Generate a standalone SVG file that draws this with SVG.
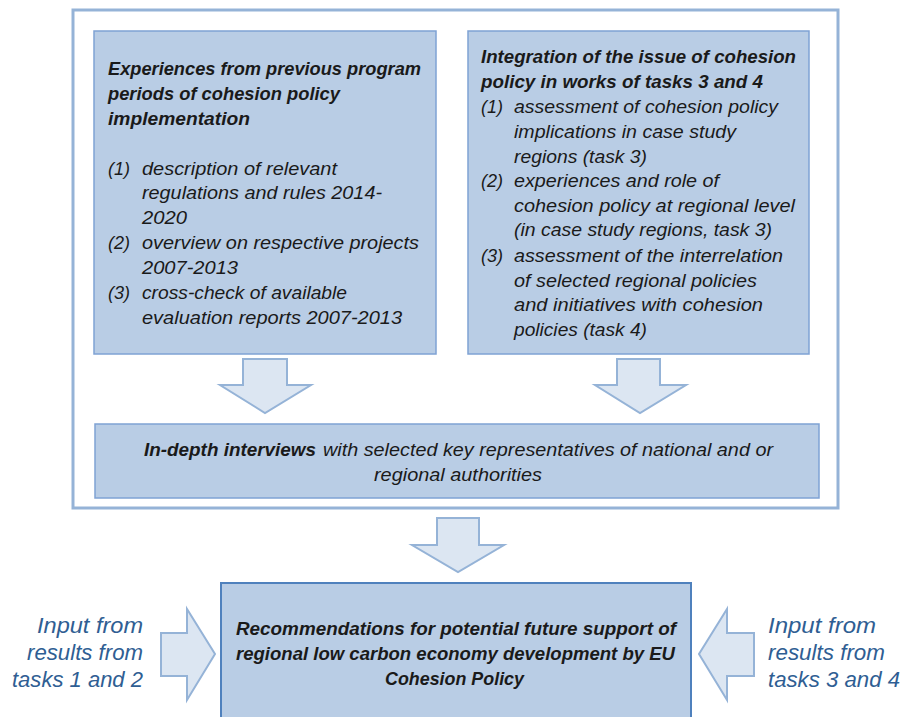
<svg xmlns="http://www.w3.org/2000/svg" width="902" height="717" viewBox="0 0 902 717">
<style>
.box{fill:#B9CDE5;stroke:#7FA2D4;stroke-width:1.5}
.arr{fill:#DCE6F2;stroke:#95B3D7;stroke-width:2;stroke-linejoin:miter}
text{font-family:"Liberation Sans",Arial,sans-serif;font-style:italic;font-size:18px;fill:#1a1a1a}
.b{font-weight:bold}
.in{font-size:22px;fill:#2F5E93}
</style>
<rect width="902" height="717" fill="#ffffff"/>
<g id="frame"><rect x="73" y="10" width="765" height="498" fill="none" stroke="#95B3D7" stroke-width="3"/></g>
<g id="box-experiences">
<rect class="box" x="94" y="31" width="342" height="323"/>
<text class="b" x="108" y="75" textLength="313" lengthAdjust="spacingAndGlyphs">Experiences from previous program</text>
<text class="b" x="108" y="100" textLength="232" lengthAdjust="spacingAndGlyphs">periods of cohesion policy</text>
<text class="b" x="108" y="125" textLength="142" lengthAdjust="spacingAndGlyphs">implementation</text>
<text x="108" y="175" textLength="22" lengthAdjust="spacingAndGlyphs">(1)</text>
<text x="142" y="175" textLength="195" lengthAdjust="spacingAndGlyphs">description of relevant</text>
<text x="142" y="199" textLength="240" lengthAdjust="spacingAndGlyphs">regulations and rules 2014-</text>
<text x="142" y="224" textLength="45" lengthAdjust="spacingAndGlyphs">2020</text>
<text x="108" y="249" textLength="22" lengthAdjust="spacingAndGlyphs">(2)</text>
<text x="142" y="249" textLength="277" lengthAdjust="spacingAndGlyphs">overview on respective projects</text>
<text x="142" y="274" textLength="96" lengthAdjust="spacingAndGlyphs">2007-2013</text>
<text x="108" y="299" textLength="22" lengthAdjust="spacingAndGlyphs">(3)</text>
<text x="142" y="299" textLength="205" lengthAdjust="spacingAndGlyphs">cross-check of available</text>
<text x="142" y="324" textLength="260" lengthAdjust="spacingAndGlyphs">evaluation reports 2007-2013</text>
</g>
<g id="box-integration">
<rect class="box" x="468" y="31" width="341" height="323"/>
<text class="b" x="481" y="63" textLength="315" lengthAdjust="spacingAndGlyphs">Integration of the issue of cohesion</text>
<text class="b" x="481" y="88" textLength="282" lengthAdjust="spacingAndGlyphs">policy in works of tasks 3 and 4</text>
<text x="481" y="113" textLength="22" lengthAdjust="spacingAndGlyphs">(1)</text>
<text x="514" y="113" textLength="264" lengthAdjust="spacingAndGlyphs">assessment of cohesion policy</text>
<text x="514" y="138" textLength="222" lengthAdjust="spacingAndGlyphs">implications in case study</text>
<text x="514" y="163" textLength="133" lengthAdjust="spacingAndGlyphs">regions (task 3)</text>
<text x="481" y="187" textLength="22" lengthAdjust="spacingAndGlyphs">(2)</text>
<text x="514" y="187" textLength="205" lengthAdjust="spacingAndGlyphs">experiences and role of</text>
<text x="514" y="212" textLength="281" lengthAdjust="spacingAndGlyphs">cohesion policy at regional level</text>
<text x="514" y="236" textLength="258" lengthAdjust="spacingAndGlyphs">(in case study regions, task 3)</text>
<text x="481" y="262" textLength="22" lengthAdjust="spacingAndGlyphs">(3)</text>
<text x="514" y="262" textLength="269" lengthAdjust="spacingAndGlyphs">assessment of the interrelation</text>
<text x="514" y="287" textLength="243" lengthAdjust="spacingAndGlyphs">of selected regional policies</text>
<text x="514" y="311" textLength="249" lengthAdjust="spacingAndGlyphs">and initiatives with cohesion</text>
<text x="514" y="336" textLength="133" lengthAdjust="spacingAndGlyphs">policies (task 4)</text>
</g>
<g id="box-interviews">
<rect class="box" x="95" y="424" width="724" height="74"/>
<text class="b" x="144" y="456" textLength="172" lengthAdjust="spacingAndGlyphs">In-depth interviews</text>
<text x="323" y="456" textLength="450" lengthAdjust="spacingAndGlyphs">with selected key representatives of national and or</text>
<text x="374" y="481" textLength="168" lengthAdjust="spacingAndGlyphs">regional authorities</text>
</g>
<g id="box-recommendations">
<rect x="221" y="583" width="470" height="140" fill="#B9CDE5" stroke="#4F81BD" stroke-width="2"/>
<text class="b" x="236" y="635" textLength="440" lengthAdjust="spacingAndGlyphs">Recommendations for potential future support of</text>
<text class="b" x="236" y="660" textLength="439" lengthAdjust="spacingAndGlyphs">regional low carbon economy development by EU</text>
<text class="b" x="385" y="685" textLength="139" lengthAdjust="spacingAndGlyphs">Cohesion Policy</text>
</g>
<g id="input-left">
<text class="in" x="37" y="633" textLength="106" lengthAdjust="spacingAndGlyphs">Input from</text>
<text class="in" x="27" y="660" textLength="116" lengthAdjust="spacingAndGlyphs">results from</text>
<text class="in" x="12" y="687" textLength="131" lengthAdjust="spacingAndGlyphs">tasks 1 and 2</text>
</g>
<g id="input-right">
<text class="in" x="768" y="633" textLength="108" lengthAdjust="spacingAndGlyphs">Input from</text>
<text class="in" x="768" y="660" textLength="117" lengthAdjust="spacingAndGlyphs">results from</text>
<text class="in" x="768" y="687" textLength="132" lengthAdjust="spacingAndGlyphs">tasks 3 and 4</text>
</g>
<g id="connectors">
<polygon class="arr" points="243,359 287,359 287,385 311,385 265,413 220,385 243,385"/>
<polygon class="arr" points="617,359 660,359 660,385 686,385 640,413 595,385 617,385"/>
<polygon class="arr" points="437,518 479,518 479,545 504,545 458,572 412,545 437,545"/>
<polygon class="arr" points="161,633 187,633 187,609 215,654 187,700 187,676 161,676"/>
<polygon class="arr" points="754,633 727,633 727,609 699,654 727,700 727,676 754,676"/>
</g>
</svg>
